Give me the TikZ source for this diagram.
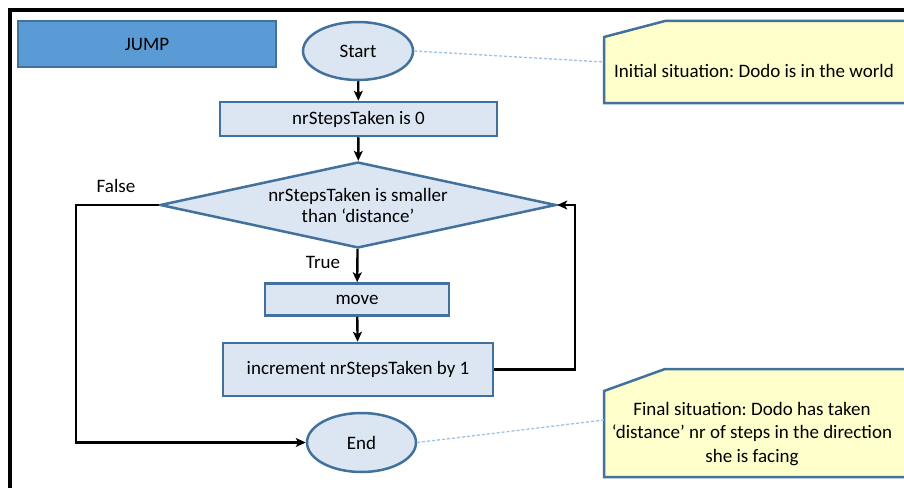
\documentclass[tikz,border=0pt]{standalone}
\usepackage{fontspec}
\setmainfont{Carlito}
\usetikzlibrary{shapes.geometric,arrows.meta}
\definecolor{boxfill}{HTML}{DCE6F2}
\definecolor{boxdraw}{HTML}{41719C}
\definecolor{jumpfill}{HTML}{5B9BD5}
\definecolor{notefill}{HTML}{FFFFCC}
\definecolor{dashcol}{HTML}{9DC3E6}
\frenchspacing
\tikzset{
  base/.style={draw=boxdraw,fill=boxfill,line width=2.5pt,inner sep=0pt,font=\fontsize{19}{21}\selectfont,align=center},
  procbox/.style={base,rectangle},
  termbox/.style={base,ellipse},
  decbox/.style={base,diamond,shape aspect=4.6},
  flow/.style={draw=black,line width=2.4pt,-{Stealth[length=10pt,width=9pt,inset=2.5pt]}},
  notebox/.style={draw=boxdraw,fill=notefill,line width=2.5pt},
  notetext/.style={inner sep=0pt,font=\fontsize{19}{23.5}\selectfont,align=center},
  lbl/.style={inner sep=0pt,font=\fontsize{19}{21}\selectfont},
  dashlink/.style={draw=dashcol,line width=1.3pt,dash pattern=on 3pt off 2pt}
}
\begin{document}
\begin{tikzpicture}[x=1pt,y=-1pt]
\useasboundingbox (0,0) rectangle (904,487);
\clip (0,0) rectangle (904,487);
\fill[white] (0,0) rectangle (904,487);
\draw[line width=3.2pt] (10,10) rectangle (930,520);
% title
\node[procbox,fill=jumpfill,minimum width=258pt,minimum height=46pt] (jump) at (147,44) {JUMP};
% flow
\node[termbox,minimum width=110pt,minimum height=58pt] (start) at (358,51) {Start};
\node[procbox,minimum width=277pt,minimum height=34pt] (init) at (358.5,119) {nrStepsTaken is 0};
\node[decbox,minimum width=396pt,minimum height=86pt] (cond) at (358,205) {nrStepsTaken is smaller\\than ‘distance’};
\node[procbox,minimum width=184pt,minimum height=32pt] (move) at (357,299.5) {move};
\node[procbox,minimum width=270pt,minimum height=53pt] (incr) at (358,369.5) {increment nrStepsTaken by 1};
\node[termbox,minimum width=109pt,minimum height=59pt] (end) at (361.5,442.5) {End};
\node[lbl] (false) at (116,186) {False};
\node[lbl] (true) at (323,262) {True};
\coordinate (rx) at (575,0);
\coordinate (lx) at (76,0);
\draw[flow] (start) -- (init);
\draw[flow] (init) -- (cond);
\draw[flow] (cond) -- (move);
\draw[flow] (move) -- (incr);
\draw[flow] (incr.east) -| (rx |- cond.east) -- (cond.east);
\draw[flow] (cond.west) -| (lx |- end.west) -- (end.west);
% notes
\draw[notebox] (604,37) -- (665,21) -- (930,21) -- (930,103) -- (604,103) -- cycle;
\node[notetext] (note1) at (754,71) {Initial situation: Dodo is in the world};
\coordinate (n1) at (604,62);
\draw[notebox] (604,391) -- (665,369) -- (930,369) -- (930,477) -- (604,477) -- cycle;
\node[notetext] (note2) at (752,434) {Final situation: Dodo has taken\\‘distance’ nr of steps in the direction\\she is facing};
\coordinate (n2) at (604,420);
\draw[dashlink] (start.east) -- (n1);
\draw[dashlink] (end.east) -- (n2);
\end{tikzpicture}
\end{document}
